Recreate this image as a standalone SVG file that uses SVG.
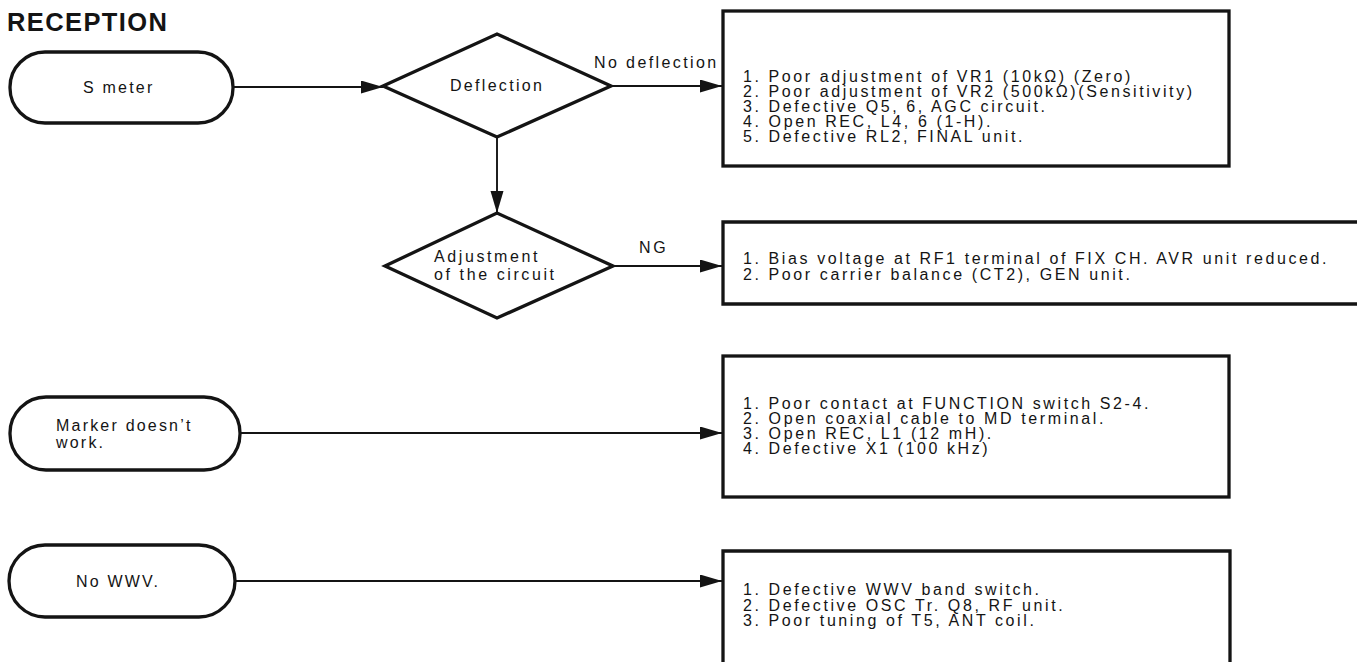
<svg xmlns="http://www.w3.org/2000/svg" width="1357" height="662" viewBox="0 0 1357 662">
<style>
.bg{fill:#ffffff}
.shape{fill:none;stroke:#141414;stroke-width:3.3}
.conn{fill:none;stroke:#141414;stroke-width:1.9}
.t{font-family:"Liberation Sans",Arial,sans-serif;font-size:16px;fill:#141414;letter-spacing:2.6px}
.title{font-family:"Liberation Sans",Arial,sans-serif;font-size:25.5px;font-weight:bold;fill:#141414;letter-spacing:1.4px}
</style>
<defs>
<marker id="arr" markerUnits="userSpaceOnUse" markerWidth="24" markerHeight="14" refX="22" refY="6.5" orient="auto">
<path d="M0,0 L22,6.5 L0,13 z" fill="#141414"/>
</marker>
</defs>
<rect class="bg" x="0" y="0" width="1357" height="662"/>
<text class="title" x="7" y="31">RECEPTION</text>

<g id="connectors">
<line class="conn" x1="233" y1="87" x2="383" y2="87" marker-end="url(#arr)"/>
<line class="conn" x1="611" y1="86" x2="722" y2="86" marker-end="url(#arr)"/>
<line class="conn" x1="497" y1="137" x2="497" y2="213" marker-end="url(#arr)"/>
<line class="conn" x1="613" y1="266" x2="722" y2="266" marker-end="url(#arr)"/>
<line class="conn" x1="240" y1="433" x2="722" y2="433" marker-end="url(#arr)"/>
<line class="conn" x1="235" y1="581" x2="722" y2="581" marker-end="url(#arr)"/>
<text class="t" x="594" y="68" style="letter-spacing:2.4px">No deflection</text>
<text class="t" x="639" y="253">NG</text>
</g>

<g id="s-meter">
<rect class="shape" x="10" y="52" width="223" height="71" rx="35" ry="35"/>
<text class="t" x="83" y="93" style="letter-spacing:2.2px">S meter</text>
</g>

<g id="deflection">
<polygon class="shape" points="383,86 497,34 611,86 497,137"/>
<text class="t" x="450" y="91" style="letter-spacing:2.3px">Deflection</text>
</g>

<g id="adjustment">
<polygon class="shape" points="385,266 497,213 613,266 497,318"/>
<text class="t" x="434" y="262">Adjustment</text>
<text class="t" x="434" y="280">of the circuit</text>
</g>

<g id="box-deflection">
<rect class="shape" x="723" y="11" width="506" height="155"/>
<text class="t" x="743" y="82">1. Poor adjustment of VR1 (10kΩ) (Zero)</text>
<text class="t" x="743" y="97">2. Poor adjustment of VR2 (500kΩ)(Sensitivity)</text>
<text class="t" x="743" y="112">3. Defective Q5, 6, AGC circuit.</text>
<text class="t" x="743" y="127">4. Open REC, L4, 6 (1-H).</text>
<text class="t" x="743" y="142">5. Defective RL2, FINAL unit.</text>
</g>

<g id="box-adjustment">
<path class="shape" d="M1362,222 H723 V304 H1362"/>
<text class="t" x="743" y="264">1. Bias voltage at RF1 terminal of FIX CH. AVR unit reduced.</text>
<text class="t" x="743" y="280">2. Poor carrier balance (CT2), GEN unit.</text>
</g>

<g id="marker">
<rect class="shape" x="10" y="397" width="230" height="73" rx="36" ry="36"/>
<text class="t" x="56" y="431" style="letter-spacing:2.2px">Marker doesn’t</text>
<text class="t" x="56" y="448" style="letter-spacing:2.2px">work.</text>
</g>

<g id="box-marker">
<rect class="shape" x="723" y="356" width="506" height="141"/>
<text class="t" x="743" y="409">1. Poor contact at FUNCTION switch S2-4.</text>
<text class="t" x="743" y="424">2. Open coaxial cable to MD terminal.</text>
<text class="t" x="743" y="439">3. Open REC, L1 (12 mH).</text>
<text class="t" x="743" y="454">4. Defective X1 (100 kHz)</text>
</g>

<g id="no-wwv">
<rect class="shape" x="9" y="545" width="226" height="72" rx="36" ry="36"/>
<text class="t" x="76" y="587" style="letter-spacing:2.2px">No WWV.</text>
</g>

<g id="box-wwv">
<path class="shape" d="M723,670 V551 H1230 V670"/>
<text class="t" x="743" y="595">1. Defective WWV band switch.</text>
<text class="t" x="743" y="611">2. Defective OSC Tr. Q8, RF unit.</text>
<text class="t" x="743" y="626">3. Poor tuning of T5, ANT coil.</text>
</g>
</svg>
